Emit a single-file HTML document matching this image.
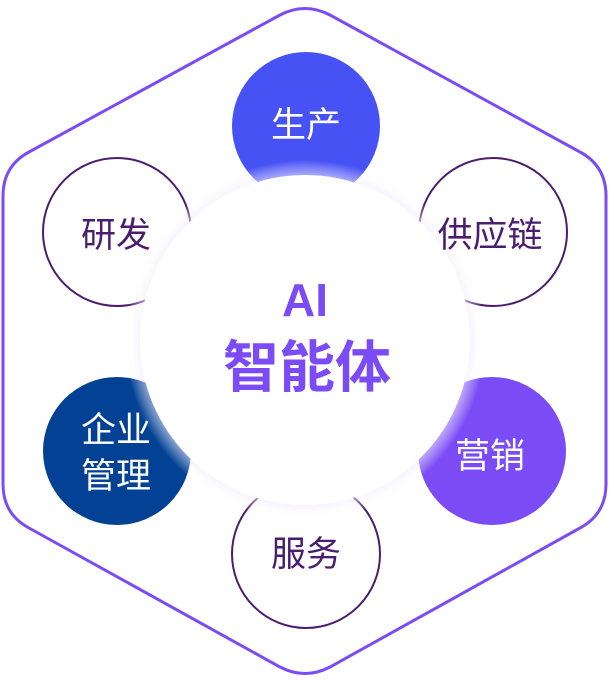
<!DOCTYPE html>
<html><head><meta charset="utf-8"><style>
html,body{margin:0;padding:0;background:#fff;}
body{width:609px;height:682px;overflow:hidden;position:relative;font-family:"Liberation Sans","Noto Sans CJK SC",sans-serif;}
svg{position:absolute;left:0;top:0;}
</style></head><body>
<svg width="609" height="682" viewBox="0 0 609 682">
<defs>
<radialGradient id="sh" cx="0.5" cy="0.5" r="0.5">
<stop offset="0.88" stop-color="#ece4ff" stop-opacity="0.8"/>
<stop offset="1" stop-color="#ffffff" stop-opacity="0"/>
</radialGradient>
</defs>
<path d="M280,15 Q305,2 330,15 L580,152 Q606,166 606,196 L606,484 Q606,514 580,528 L330,667 Q305,680 280,667 L29,528 Q3,514 3,484 L3,196 Q3,166 29,152 Z" fill="#fff" stroke="#7b4cf5" stroke-width="3"/>
<circle cx="306" cy="126" r="74" fill="#4752f5"/>
<circle cx="117" cy="232" r="74" fill="#fff" stroke="#4a1d6e" stroke-width="2"/>
<circle cx="493" cy="232" r="74" fill="#fff" stroke="#4a1d6e" stroke-width="2"/>
<circle cx="117" cy="451" r="74" fill="#034195"/>
<circle cx="492" cy="451" r="74" fill="#7b4cf5"/>
<circle cx="306" cy="554" r="74" fill="#fff" stroke="#4a1d6e" stroke-width="2"/>
<circle cx="305" cy="340" r="180" fill="url(#sh)"/>
<circle cx="305" cy="340" r="165" fill="#fff"/>
<g font-family="'Liberation Sans','Noto Sans CJK SC',sans-serif" text-anchor="middle" font-size="35">
<text x="306" y="137" fill="#fff">生产</text>
<text x="116" y="247" fill="#4a1d6e">研发</text>
<text x="490" y="247" fill="#4a1d6e">供应链</text>
<text x="116" y="442" fill="#fff">企业</text>
<text x="116" y="488" fill="#fff">管理</text>
<text x="490" y="468" fill="#fff">营销</text>
<text x="306" y="566" fill="#4a1d6e">服务</text>
<text x="305" y="316" fill="#7b4cf5" font-size="46" font-weight="bold">AI</text>
<text x="307" y="387" fill="#7b4cf5" font-size="56" font-weight="bold">智能体</text>
</g>
</svg>
</body></html>
